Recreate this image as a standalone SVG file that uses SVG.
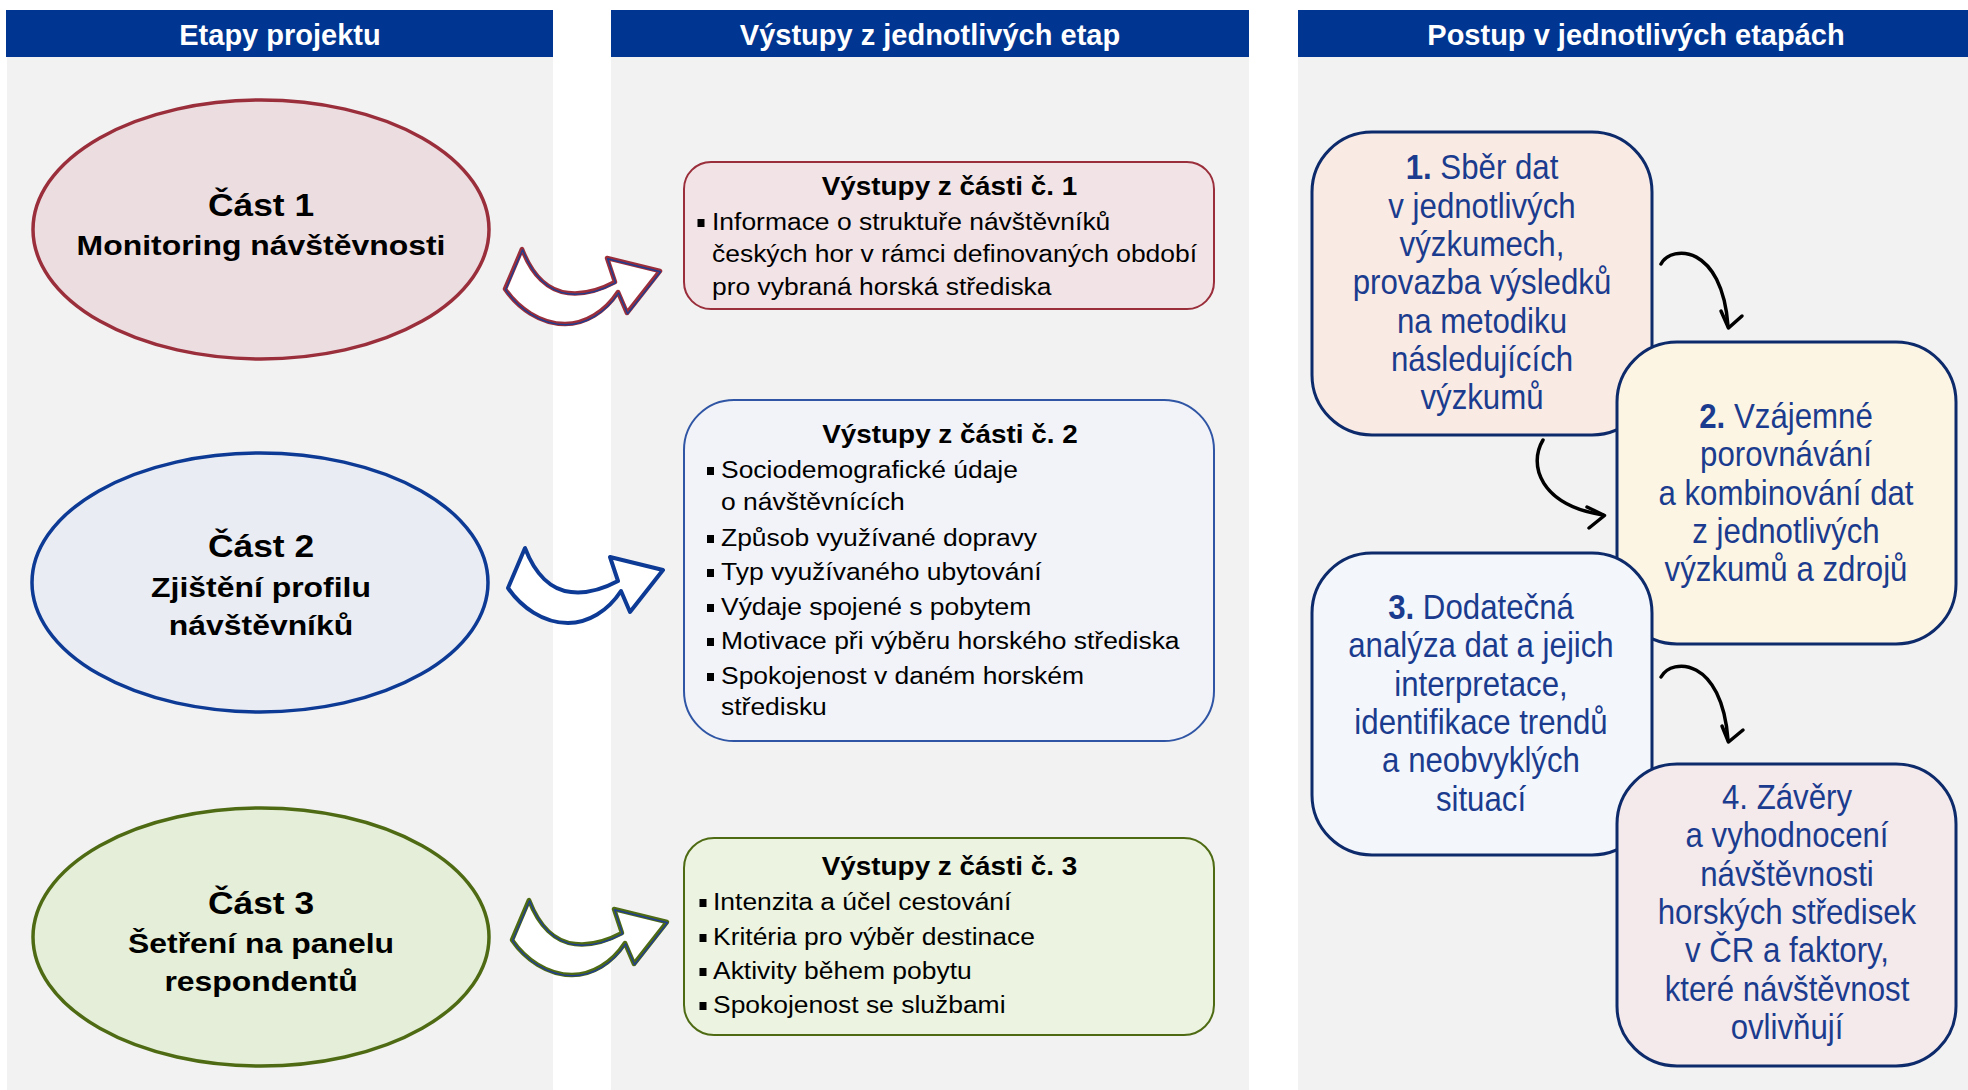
<svg xmlns="http://www.w3.org/2000/svg" width="1968" height="1090" viewBox="0 0 1968 1090">
<style>
  text{font-family:"Liberation Sans",Arial,sans-serif}
  .hdr{fill:#003591}
  .hdrt{font-weight:bold;font-size:29px;fill:#fff;text-anchor:middle}
  .panel{fill:#f2f2f2}
  .et{font-weight:bold;fill:#000;text-anchor:middle}
  .t1{font-size:31px}
  .t2{font-size:28px}
  .mt{font-size:24.5px;fill:#000}
  .mtt{font-weight:bold;font-size:25.8px;fill:#000;text-anchor:middle}
  .rt{font-size:34.5px;fill:#1b3c8e;text-anchor:middle}
  .rbox{stroke:#0d2a6b;stroke-width:3}
  .bl{fill:#000}
  .conn{fill:none;stroke:#000;stroke-width:3.5;stroke-linecap:round;stroke-linejoin:round}
  .sw{stroke-linejoin:round;stroke-linecap:round}
</style>
<defs>
  <path id="swoosh" d="M522,249 L505,289 C518,308 540,324 565,324 C585,324 605,312 618,292 L627,313 L660,271 L607,258 L615,282 C600,290 585,295 568,293 C548,291 532,275 522,249 Z"/>
</defs>
<rect x="0" y="0" width="1968" height="1090" fill="#fff"/>

<g id="columns">
  <rect class="panel" x="7" y="57" width="546" height="1033"/>
  <rect class="panel" x="611" y="57" width="638" height="1033"/>
  <rect class="panel" x="1298" y="57" width="670" height="1033"/>
  <rect class="hdr" x="6" y="10" width="547" height="47"/>
  <rect class="hdr" x="611" y="10" width="638" height="47"/>
  <rect class="hdr" x="1298" y="10" width="670" height="47"/>
  <text class="hdrt" x="280" y="45">Etapy projektu</text>
  <text class="hdrt" x="930" y="45">Výstupy z jednotlivých etap</text>
  <text class="hdrt" x="1636" y="45">Postup v jednotlivých etapách</text>
</g>

<g id="part1">
  <ellipse cx="261" cy="229.5" rx="228" ry="129.5" fill="#ecdde0" stroke="#9a2e3b" stroke-width="3.5"/>
  <g transform="translate(261,0) scale(1.14,1)">
    <text class="et t1" x="0" y="216">Část 1</text>
    <text class="et t2" x="0" y="255">Monitoring návštěvnosti</text>
  </g>
</g>
<g id="part2">
  <ellipse cx="260" cy="582.5" rx="228" ry="129.5" fill="#e9ecf3" stroke="#0d3a94" stroke-width="3.5"/>
  <g transform="translate(261,0) scale(1.14,1)">
    <text class="et t1" x="0" y="557">Část 2</text>
    <text class="et t2" x="0" y="597">Zjištění profilu</text>
    <text class="et t2" x="0" y="635">návštěvníků</text>
  </g>
</g>
<g id="part3">
  <ellipse cx="261" cy="937" rx="228" ry="129" fill="#e5eed8" stroke="#4e6b14" stroke-width="3.5"/>
  <g transform="translate(261,0) scale(1.14,1)">
    <text class="et t1" x="0" y="914">Část 3</text>
    <text class="et t2" x="0" y="953">Šetření na panelu</text>
    <text class="et t2" x="0" y="991">respondentů</text>
  </g>
</g>

<g id="output1">
  <rect x="684" y="162" width="530" height="147" rx="27" fill="#f2e4e6" stroke="#9a2e3b" stroke-width="2"/>
  <g transform="translate(949.5,0) scale(1.08,1)"><text class="mtt" x="0" y="195">Výstupy z části č. 1</text></g>
  <rect class="bl" x="697.5" y="219" width="7" height="8"/>
  <g transform="translate(712,0) scale(1.08,1)">
    <text class="mt"><tspan x="0" y="230">Informace o struktuře návštěvníků</tspan><tspan x="0" y="262.5">českých hor v rámci definovaných období</tspan><tspan x="0" y="295">pro vybraná horská střediska</tspan></text>
  </g>
</g>

<g id="output2">
  <rect x="684" y="400" width="530" height="341" rx="50" fill="#f2f3f8" stroke="#2f55a4" stroke-width="2"/>
  <g transform="translate(950,0) scale(1.08,1)"><text class="mtt" x="0" y="443">Výstupy z části č. 2</text></g>
  <rect class="bl" x="707" y="467" width="7" height="8"/>
  <rect class="bl" x="707" y="535" width="7" height="8"/>
  <rect class="bl" x="707" y="569" width="7" height="8"/>
  <rect class="bl" x="707" y="604" width="7" height="8"/>
  <rect class="bl" x="707" y="638" width="7" height="8"/>
  <rect class="bl" x="707" y="673" width="7" height="8"/>
  <g transform="translate(721,0) scale(1.08,1)">
    <text class="mt"><tspan x="0" y="478">Sociodemografické údaje</tspan><tspan x="0" y="510">o návštěvnících</tspan><tspan x="0" y="546">Způsob využívané dopravy</tspan><tspan x="0" y="580">Typ využívaného ubytování</tspan><tspan x="0" y="615">Výdaje spojené s pobytem</tspan><tspan x="0" y="649">Motivace při výběru horského střediska</tspan><tspan x="0" y="684">Spokojenost v daném horském</tspan><tspan x="0" y="715">středisku</tspan></text>
  </g>
</g>

<g id="output3">
  <rect x="684" y="838" width="530" height="197" rx="30" fill="#ecf3e0" stroke="#4e6b14" stroke-width="2"/>
  <g transform="translate(949.5,0) scale(1.08,1)"><text class="mtt" x="0" y="875">Výstupy z části č. 3</text></g>
  <rect class="bl" x="699.5" y="899" width="7" height="8"/>
  <rect class="bl" x="699.5" y="934" width="7" height="8"/>
  <rect class="bl" x="699.5" y="968" width="7" height="8"/>
  <rect class="bl" x="699.5" y="1002" width="7" height="8"/>
  <g transform="translate(713,0) scale(1.08,1)">
    <text class="mt"><tspan x="0" y="910">Intenzita a účel cestování</tspan><tspan x="0" y="945">Kritéria pro výběr destinace</tspan><tspan x="0" y="979">Aktivity během pobytu</tspan><tspan x="0" y="1013">Spokojenost se službami</tspan></text>
  </g>
</g>

<g id="step1">
  <rect class="rbox" x="1312" y="132" width="340" height="303" rx="60" fill="#f9ebe4"/>
  <g transform="translate(1482,0) scale(0.905,1)">
    <text class="rt"><tspan x="0" y="179.5"><tspan font-weight="bold">1.</tspan> Sběr dat</tspan><tspan x="0" y="217.8">v jednotlivých</tspan><tspan x="0" y="256.1">výzkumech,</tspan><tspan x="0" y="294.4">provazba výsledků</tspan><tspan x="0" y="332.7">na metodiku</tspan><tspan x="0" y="371">následujících</tspan><tspan x="0" y="409.3">výzkumů</tspan></text>
  </g>
</g>
<g id="step2">
  <rect class="rbox" x="1617" y="342" width="339" height="302" rx="60" fill="#fdf5e4"/>
  <g transform="translate(1786,0) scale(0.905,1)">
    <text class="rt"><tspan x="0" y="428"><tspan font-weight="bold">2.</tspan> Vzájemné</tspan><tspan x="0" y="466.5">porovnávání</tspan><tspan x="0" y="505">a kombinování dat</tspan><tspan x="0" y="543">z jednotlivých</tspan><tspan x="0" y="581.5">výzkumů a zdrojů</tspan></text>
  </g>
</g>
<g id="step3">
  <rect class="rbox" x="1312" y="553" width="340" height="302" rx="60" fill="#f3f7fc"/>
  <g transform="translate(1481,0) scale(0.905,1)">
    <text class="rt"><tspan x="0" y="619"><tspan font-weight="bold">3.</tspan> Dodatečná</tspan><tspan x="0" y="657.5">analýza dat a jejich</tspan><tspan x="0" y="696">interpretace,</tspan><tspan x="0" y="734">identifikace trendů</tspan><tspan x="0" y="772.5">a neobvyklých</tspan><tspan x="0" y="811">situací</tspan></text>
  </g>
</g>
<g id="step4">
  <rect class="rbox" x="1617" y="764" width="339" height="302" rx="60" fill="#f4e9eb"/>
  <g transform="translate(1787,0) scale(0.905,1)">
    <text class="rt"><tspan x="0" y="809">4. Závěry</tspan><tspan x="0" y="847.5">a vyhodnocení</tspan><tspan x="0" y="886">návštěvnosti</tspan><tspan x="0" y="924">horských středisek</tspan><tspan x="0" y="962.5">v ČR a faktory,</tspan><tspan x="0" y="1001">které návštěvnost</tspan><tspan x="0" y="1039">ovlivňují</tspan></text>
  </g>
</g>

<g id="connectors">
  <g>
    <use href="#swoosh" class="sw" fill="#fff" stroke="#9a2e3b" stroke-width="4.5"/>
    <use href="#swoosh" class="sw" fill="none" stroke="#203d8f" stroke-width="1.4" transform="translate(0.6,0.8)"/>
  </g>
  <g transform="translate(3,299)">
    <use href="#swoosh" class="sw" fill="#fff" stroke="#0d3a94" stroke-width="4"/>
  </g>
  <g transform="translate(7,651)">
    <use href="#swoosh" class="sw" fill="#fff" stroke="#4e6b14" stroke-width="4.5"/>
    <use href="#swoosh" class="sw" fill="none" stroke="#203d8f" stroke-width="1.4" transform="translate(0.6,0.8)"/>
  </g>
  <path class="conn" d="M1661,264 C1672,244 1722,245 1728,326"/>
  <path class="conn" d="M1721,311 L1728.5,328 L1742,316"/>
  <path class="conn" d="M1543,440 C1528,465 1540,505 1603,515"/>
  <path class="conn" d="M1587,507 L1604.5,515.5 L1589,528"/>
  <path class="conn" d="M1661,677 C1672,657 1722,658 1728,740"/>
  <path class="conn" d="M1722,726 L1728.5,742 L1743,730"/>
</g>
</svg>
